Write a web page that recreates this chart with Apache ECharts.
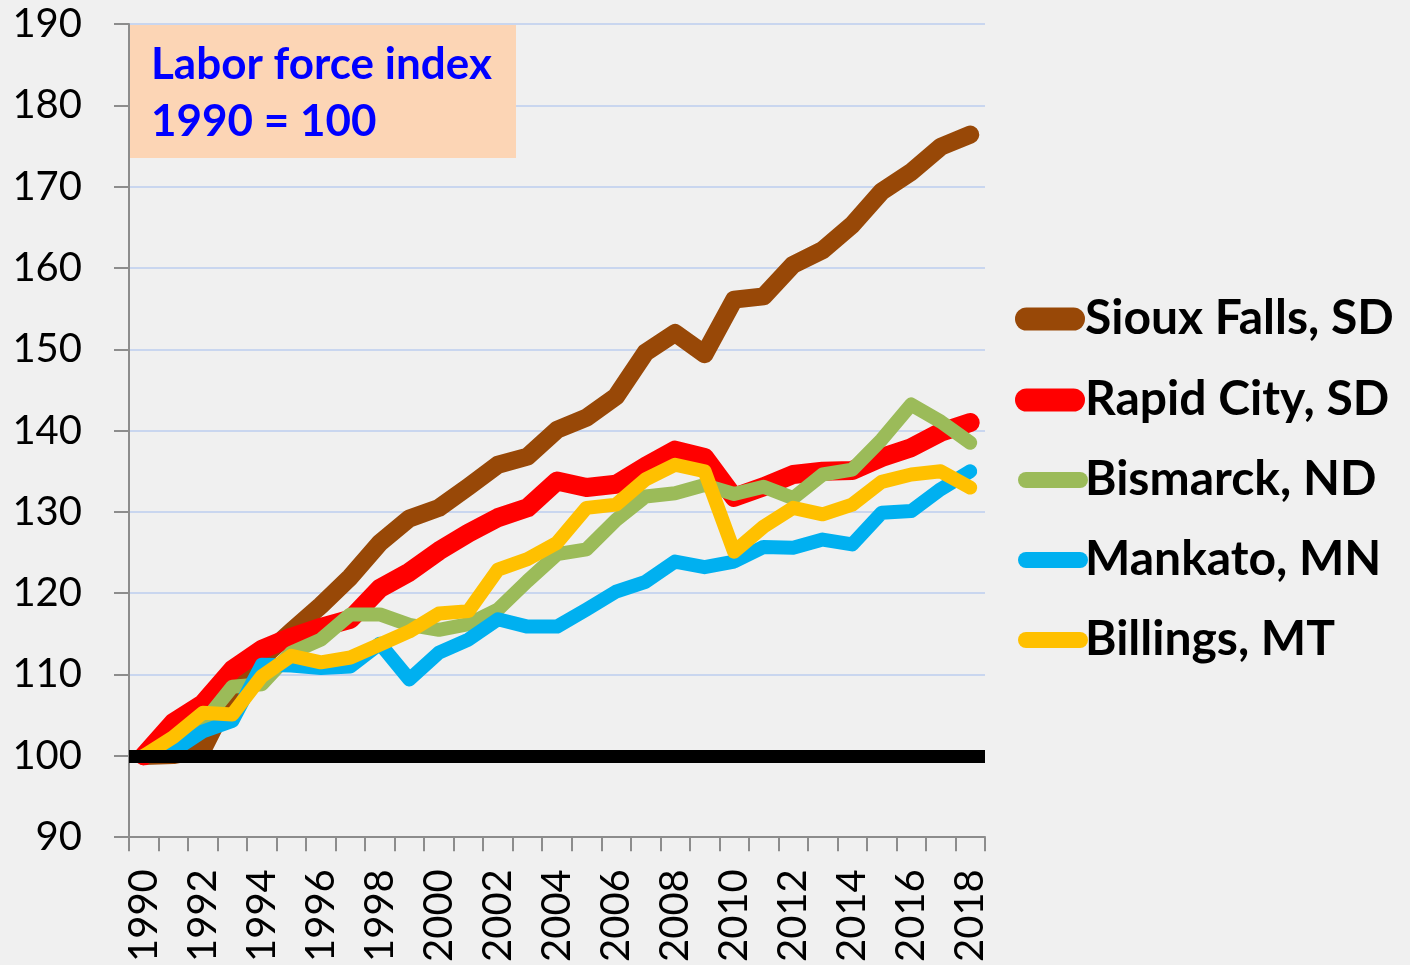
<!DOCTYPE html>
<html>
<head>
<meta charset="utf-8">
<script src="https://cdn.jsdelivr.net/npm/echarts@6/dist/echarts.min.js"></script>
<style>
html,body{margin:0;padding:0;background:#f0f0f0;}
#chart{width:1410px;height:965px;}
</style>
</head>
<body>
<div id="chart"></div>
<script>
const years = ['1990','1991','1992','1993','1994','1995','1996','1997','1998','1999','2000','2001','2002','2003','2004','2005','2006','2007','2008','2009','2010','2011','2012','2013','2014','2015','2016','2017','2018'];
const siouxFalls = [100, 100.1, 100.8, 108, 112, 115.3, 118.5, 122, 126.2, 129.2, 130.5, 133.1, 135.8, 136.8, 140.1, 141.6, 144.2, 149.6, 152.0, 149.4, 156.1, 156.5, 160.4, 162.2, 165.3, 169.4, 171.8, 174.9, 176.4];
const rapidCity = [100, 104.1, 106.4, 110.6, 113.1, 114.6, 115.8, 116.8, 120.6, 122.6, 125.2, 127.4, 129.3, 130.5, 133.8, 133.0, 133.4, 135.6, 137.6, 136.7, 131.8, 133.1, 134.6, 135.0, 135.1, 136.7, 137.9, 139.8, 141.0];
const bismarck = [100, 101.5, 104, 108.5, 108.8, 112.7, 114.3, 117.4, 117.4, 116.1, 115.5, 116.2, 118, 121.5, 124.8, 125.4, 129, 131.9, 132.3, 133.3, 132.2, 133.1, 131.7, 134.6, 135.2, 138.9, 143.2, 141.1, 138.5];
const mankato = [100, 100.6, 103, 104.3, 111.2, 111.1, 110.8, 111, 113.8, 109.4, 112.7, 114.3, 116.8, 115.9, 115.9, 118, 120.2, 121.4, 123.9, 123.2, 123.9, 125.7, 125.6, 126.6, 126, 129.9, 130.1, 132.8, 135];
const billings = [100, 102.3, 105.3, 105.1, 109.8, 112.3, 111.5, 112.1, 113.7, 115.3, 117.5, 117.8, 122.9, 124.2, 126.2, 130.5, 130.9, 134.0, 135.8, 135.0, 125.1, 128.2, 130.5, 129.7, 130.9, 133.7, 134.6, 135.0, 133.0];
const seriesNames = ['Sioux Falls, SD', 'Rapid City, SD', 'Bismarck, ND', 'Mankato, MN', 'Billings, MT'];
const baseValue = 100;
const titleLines = ['Labor force index', '1990 = 100'];

const colors = ['#984807', '#ff0000', '#9bbb59', '#00b0f0', '#ffc000'];
const widths = [18, 19, 14, 14, 14];
const dataSets = [siouxFalls, rapidCity, bismarck, mankato, billings];
const legendCenters = [319, 400, 480, 560, 640];
const pillBig = 'path://M11.5,0H58.5A11.5,11.5,0,0,1,58.5,23H11.5A11.5,11.5,0,0,1,11.5,0Z';
const pillSmall = 'path://M8,0H62A8,8,0,0,1,62,16H8A8,8,0,0,1,8,0Z';

const chart = echarts.init(document.getElementById('chart'));

const series = seriesNames.map((name, i) => ({
  name: name,
  type: 'line',
  data: dataSets[i],
  symbol: 'none',
  smooth: false,
  z: 2 + i,
  lineStyle: { color: colors[i], width: widths[i], cap: 'round', join: 'round' },
  itemStyle: { color: colors[i] }
}));
series.push({
  name: 'base',
  type: 'line',
  data: [],
  z: 20,
  symbol: 'none',
  markLine: {
    silent: true,
    symbol: ['none', 'none'],
    label: { show: false },
    z: 20,
    lineStyle: { color: '#000000', width: 13, type: 'solid' },
    data: [{ yAxis: baseValue }]
  }
});

const legends = seriesNames.map((name, i) => ({
  data: [{ name: name, icon: i < 2 ? pillBig : pillSmall }],
  left: i < 2 ? 1015 : 1018,
  top: legendCenters[i] - 26,
  orient: 'vertical',
  itemWidth: 70,
  itemHeight: i < 2 ? 23 : 16,
  itemGap: 0,
  padding: 0,
  selectedMode: false,
  textStyle: { fontFamily: 'Lato', fontWeight: 'bold', fontSize: 48, color: '#000', lineHeight: 52, padding: [0, 0, 0, i < 2 ? -5 : -8] }
}));

chart.setOption({
  backgroundColor: '#f0f0f0',
  animation: false,
  color: colors,
  legend: legends,
  grid: { left: 129, right: 425, top: 24, bottom: 127, containLabel: false },
  xAxis: {
    type: 'category',
    data: years,
    boundaryGap: true,
    axisLine: { show: true, lineStyle: { color: '#8c8c8c', width: 2 } },
    axisTick: { show: true, interval: 0, length: 14, inside: false, lineStyle: { color: '#8c8c8c', width: 2 } },
    axisLabel: { interval: 1, rotate: 90, margin: 32, fontFamily: 'Lato', fontSize: 40, color: '#000' },
    splitLine: { show: false }
  },
  yAxis: {
    type: 'value',
    min: 90,
    max: 190,
    interval: 10,
    axisLine: { show: true, lineStyle: { color: '#8c8c8c', width: 2 } },
    axisTick: { show: true, length: 15, inside: false, lineStyle: { color: '#8c8c8c', width: 2 } },
    axisLabel: { margin: 47, fontFamily: 'Lato', fontSize: 40, color: '#000' },
    splitLine: { show: true, lineStyle: { color: '#c9d6ef', width: 2 } }
  },
  graphic: [
    { type: 'rect', z: 100, zlevel: 1, shape: { x: 130, y: 25, width: 386, height: 133 }, style: { fill: '#fcd5b5' } },
    { type: 'text', z: 101, zlevel: 1, style: { text: titleLines[0], x: 151, y: 65, verticalAlign: 'middle', font: 'bold 44px Lato', fill: '#0000ff' } },
    { type: 'text', z: 101, zlevel: 1, style: { text: titleLines[1], x: 151, y: 122, verticalAlign: 'middle', font: 'bold 44px Lato', fill: '#0000ff' } }
  ],
  series: series
});
</script>
</body>
</html>
